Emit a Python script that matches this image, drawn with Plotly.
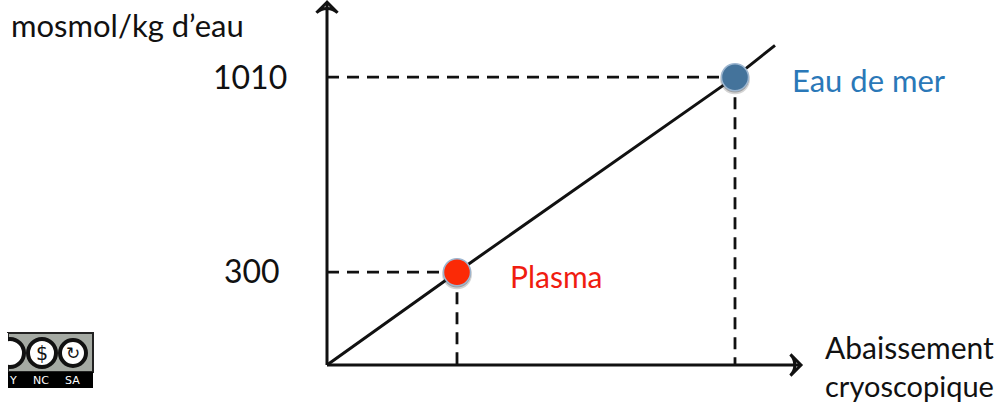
import plotly.graph_objects as go

# values (x has no scale printed, so it is in picture units)
point_names = ["Plasma", "Eau de mer"]
point_x = [130, 408]
point_y = [300, 1010]
point_colors = ["#fb2a06", "#44739b"]
label_colors = ["#f01c10", "#2a78b8"]
line_x = [0, 130, 408, 448]
line_y = [-38, 300, 1010, 1126]
x_end = 474
y_end = 1283
y_ticks = [300, 1010]
y_title = "mosmol/kg d’eau"
x_title = ["Abaissement", "cryoscopique"]
badge_labels = ["Y", "NC", "SA"]

FONT = "Lato"
W, H = 1001, 403
X0, Y0 = 327, 365          # pixel of the axes origin
KY = 195 / 710             # pixels per mosmol


def px_x(v):
    return (v - X0)


def px_y(v):
    return line_y[0] + (Y0 - v) / KY


fig = go.Figure()

# dashed guides
for x, y in zip(point_x, point_y):
    fig.add_trace(go.Scatter(x=[0, x], y=[y, y], mode="lines",
                             line=dict(color="#111111", width=2.8, dash="12px,8px")))
    fig.add_trace(go.Scatter(x=[x, x], y=[y, line_y[0]], mode="lines",
                             line=dict(color="#111111", width=2.8, dash="12px,8px")))

# axes
fig.add_trace(go.Scatter(x=[0, x_end], y=[line_y[0], line_y[0]], mode="lines",
                         line=dict(color="#111111", width=3)))
fig.add_trace(go.Scatter(x=[0, 0], y=[line_y[0], y_end], mode="lines",
                         line=dict(color="#111111", width=3)))
fig.add_trace(go.Scatter(x=[x_end], y=[line_y[0]], mode="markers",
                         marker=dict(symbol="arrow-wide-open", angle=90, size=15,
                                     color="#111111", line=dict(color="#111111", width=3))))
fig.add_trace(go.Scatter(x=[0], y=[y_end], mode="markers",
                         marker=dict(symbol="arrow-wide-open", angle=0, size=15,
                                     color="#111111", line=dict(color="#111111", width=3))))

# the line
fig.add_trace(go.Scatter(x=line_x, y=line_y, mode="lines",
                         line=dict(color="#111111", width=3)))

# soft shadow under the points, then the points
fig.add_trace(go.Scatter(x=point_x, y=[v - 8 for v in point_y], mode="markers",
                         marker=dict(size=30, color="rgba(60,60,60,0.22)")))
fig.add_trace(go.Scatter(x=point_x, y=[v - 5 for v in point_y], mode="markers",
                         marker=dict(size=28, color="rgba(60,60,60,0.35)")))
fig.add_trace(go.Scatter(x=point_x, y=point_y, mode="markers",
                         marker=dict(size=27, color=point_colors,
                                     line=dict(color="#9db6d0", width=1.5))))

shapes = []
annots = []


def label(x, y, text, size, color="#111111", anchor="left", family=FONT):
    annots.append(dict(x=x, y=y, xref="paper", yref="paper", text=text, showarrow=False,
                       xanchor=anchor, yanchor="middle", align=anchor,
                       borderpad=0, xshift=0,
                       font=dict(family=family, size=size, color=color)))


def fx(p):
    return p / W


def fy(p):
    return 1 - p / H


label(fx(10), fy(25), y_title, 31)
label(fx(288), fy(76), str(y_ticks[1]), 32, anchor="right")
label(fx(281), fy(270), str(y_ticks[0]), 32, anchor="right")
label(fx(509), fy(276), point_names[0], 30, label_colors[0])
label(fx(791), fy(80), point_names[1], 31, label_colors[1])
label(fx(824), fy(347), x_title[0], 30)
label(fx(824), fy(385), x_title[1], 29)


def rect(x0, y0, x1, y1, fill, lw=0, lc=None):
    shapes.append(dict(type="rect", xref="paper", yref="paper", x0=fx(x0), x1=fx(x1),
                       y0=fy(y1), y1=fy(y0), fillcolor=fill,
                       line=dict(width=lw, color=lc or fill)))


def circle(cx, cy, r, fill, lw=0, lc="#111111"):
    shapes.append(dict(type="circle", xref="paper", yref="paper", x0=fx(cx - r), x1=fx(cx + r),
                       y0=fy(cy + r), y1=fy(cy - r), fillcolor=fill,
                       line=dict(width=lw, color=lc)))


# licence badge
rect(8, 333, 93, 372, "#a5aaa3", 2, "#222222")
rect(8, 372, 93, 388, "#000000")
circle(10, 353, 14, "#ffffff", 4)
circle(42, 353, 14, "#ffffff", 4)
circle(73, 353, 13, "#ffffff", 4)
rect(0, 333, 8, 388, "#ffffff")
label(fx(42), fy(353), "$", 19, "#111111", "center", "DejaVu Sans")
label(fx(73), fy(353), "↻", 17, "#111111", "center", "DejaVu Sans")
label(fx(13), fy(380), badge_labels[0], 11, "#ffffff", "center", "DejaVu Sans")
label(fx(41), fy(380), badge_labels[1], 11, "#ffffff", "center", "DejaVu Sans")
label(fx(72), fy(380), badge_labels[2], 11, "#ffffff", "center", "DejaVu Sans")

fig.update_layout(
    width=W, height=H, margin=dict(l=0, r=0, t=0, b=0),
    paper_bgcolor="white", plot_bgcolor="white", showlegend=False,
    xaxis=dict(range=[px_x(0), px_x(W)], visible=False, fixedrange=True),
    yaxis=dict(range=[px_y(H), px_y(0)], visible=False, fixedrange=True),
    shapes=shapes, annotations=annots,
)
fig.write_html("out.html", config={"displayModeBar": False},
               post_script="document.body.style.margin='0';document.body.style.overflow='hidden';")
